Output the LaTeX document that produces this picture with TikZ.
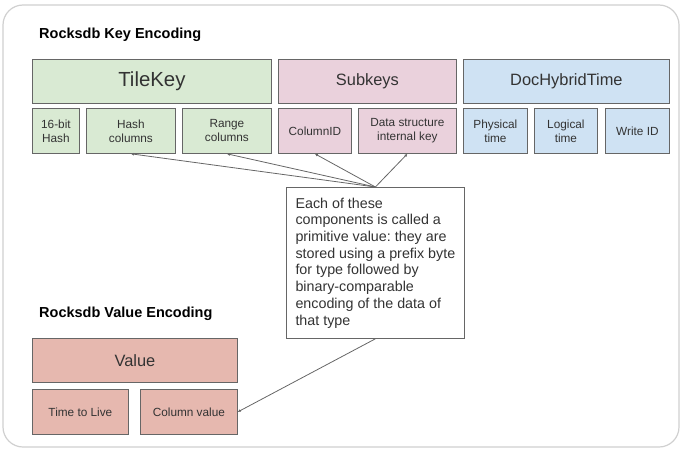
\documentclass[tikz,border=0pt]{standalone}
\usepackage{fontspec}
\setmainfont{Liberation Sans}
\usetikzlibrary{arrows.meta,positioning}
\definecolor{keygreen}{HTML}{D9EAD3}
\definecolor{keypink}{HTML}{EAD1DC}
\definecolor{keyblue}{HTML}{CFE2F3}
\definecolor{valred}{HTML}{E6B8AF}
\definecolor{boxline}{HTML}{666666}
\definecolor{txt}{HTML}{333333}
\definecolor{frame}{HTML}{D0D0D0}
\frenchspacing
\begin{document}
\begin{tikzpicture}[x=1pt,y=-1pt,
box/.style={draw=boxline,line width=0.8pt,text=txt,inner sep=0pt,anchor=north west,align=center},
head/.style={box,minimum height=44pt,font=\fontsize{16.4}{18}\selectfont},
part/.style={box,minimum height=45pt,font=\fontsize{11.8}{14}\selectfont},
title/.style={anchor=base west,inner sep=0pt,text=black,font=\fontsize{14.5}{16}\selectfont\bfseries},
pointer/.style={draw=boxline,line width=0.8pt,-{Latex[length=3pt,width=3pt]}}]
\useasboundingbox (0,0) rectangle (685,452);
\draw[frame,line width=1.2pt,rounded corners=20pt] (3,5) rectangle (679,447);
\node[title] (keytitle) at (39,38) {Rocksdb Key Encoding};
\node[head,fill=keygreen,minimum width=239pt,font=\fontsize{20.4}{22}\selectfont] (tilekey) at (32,59) {TileKey};
\node[head,fill=keypink,minimum width=178pt] (subkeys) at (278,59) {Subkeys};
\node[head,fill=keyblue,minimum width=206pt] (hybridtime) at (463,59) {DocHybridTime};
\foreach \n/\x/\w/\t in {hashbits/32/47/{16-bit\\Hash},hashcols/86/89/{Hash\\columns},rangecols/182/89/{Range\\columns}}
\node[part,fill=keygreen,minimum width=\w pt] (\n) at (\x,108) {\t};
\foreach \n/\x/\w/\t in {columnid/278/73/{ColumnID},internalkey/358/98/{Data structure\\internal key}}
\node[part,fill=keypink,minimum width=\w pt] (\n) at (\x,108) {\t};
\foreach \n/\x/\w/\t in {physical/463/64/{Physical\\time},logical/534/63/{Logical\\time},writeid/605/64/{Write ID}}
\node[part,fill=keyblue,minimum width=\w pt] (\n) at (\x,108) {\t};
\node[box,fill=white,align=left,minimum width=178pt,minimum height=151pt,inner xsep=8pt,font=\fontsize{14.3}{16.7}\selectfont] (note) at (286,187) {Each of these\\components is called a\\primitive value: they are\\stored using a prefix byte\\for type followed by\\binary-comparable\\encoding of the data of\\that type};
\node[title] (valtitle) at (39,317) {Rocksdb Value Encoding};
\node[head,fill=valred,minimum width=205pt] (value) at (32,338) {Value};
\node[part,fill=valred,minimum width=96pt] (ttl) at (32,389) {Time to Live};
\node[part,fill=valred,minimum width=97pt] (colvalue) at (140,389) {Column value};
\foreach \t in {hashcols,rangecols,columnid,internalkey}
\draw[pointer] (note.north) -- (\t.south);
\draw[pointer] (note.south) -- (colvalue.east);
\end{tikzpicture}
\end{document}
